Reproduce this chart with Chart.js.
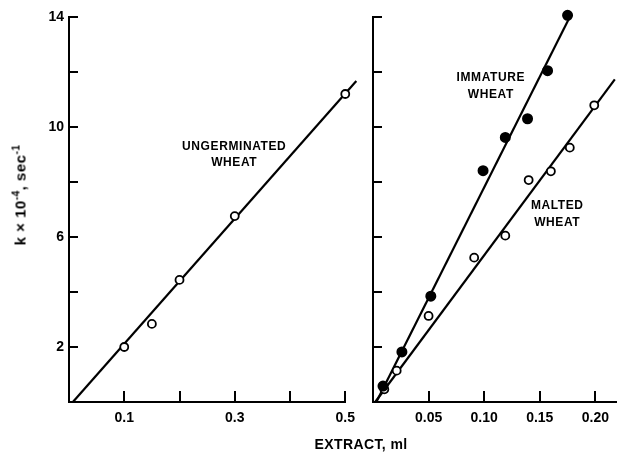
<!DOCTYPE html>
<html><head><meta charset="utf-8">
<script src="https://cdn.jsdelivr.net/npm/chart.js@4/dist/chart.umd.min.js"></script>
<style>
html,body{margin:0;padding:0;background:#fff;}
#wrap{position:relative;width:617px;height:456px;overflow:hidden;font-family:"Liberation Sans",Arial,sans-serif;color:#000;}
#c1box{position:absolute;left:0;top:0;width:363px;height:456px;}
#c2box{position:absolute;left:355px;top:0;width:269px;height:456px;}
.ytitle{position:absolute;left:20px;top:195px;transform:translate(-50%,-50%) rotate(-90deg);white-space:nowrap;font-weight:bold;font-size:15px;letter-spacing:0.5px;}
.ytitle sup{font-size:10px;vertical-align:6px;line-height:0;}
.xtitle{position:absolute;left:361px;top:444px;transform:translate(-50%,-50%);white-space:nowrap;font-weight:bold;font-size:14px;letter-spacing:0.4px;}
</style>
</head><body>
<div id="wrap">
  <div id="c1box"><canvas id="c1"></canvas></div>
  <div id="c2box"><canvas id="c2"></canvas></div>
  <div class="ytitle">k × 10<sup>-4</sup>, sec<sup>-1</sup></div>
  <div class="xtitle">EXTRACT, ml</div>
</div>
<script>
// ---- data ----
const ungermX = [0.1, 0.15, 0.2, 0.3, 0.5];
const ungermY = [2.0, 2.84, 4.44, 6.76, 11.2];
const ungermFitX = [0.007, 0.52];
const ungermFitY = [0, 11.67];

const immatureX = [0.009, 0.026, 0.052, 0.099, 0.119, 0.139, 0.157, 0.175];
const immatureY = [0.58, 1.82, 3.85, 8.41, 9.62, 10.3, 12.05, 14.06];
const immatureFitX = [0.003, 0.177];
const immatureFitY = [0, 14.0];

const maltedX = [0.0102, 0.0213, 0.050, 0.091, 0.119, 0.140, 0.160, 0.177, 0.199];
const maltedY = [0.46, 1.14, 3.13, 5.25, 6.05, 8.07, 8.39, 9.25, 10.79];
const maltedFitX = [0.002, 0.2175];
const maltedFitY = [0, 11.73];

const yTickValues = [2, 4, 6, 8, 10, 12, 14];
const yTickLabels = ['2', '', '6', '', '10', '', '14'];
const leftXTickValues = [0.1, 0.2, 0.3, 0.4, 0.5];
const leftXTickLabels = ['0.1', '', '0.3', '', '0.5'];
const rightXTickValues = [0.05, 0.10, 0.15, 0.20];
const rightXTickLabels = ['0.05', '0.10', '0.15', '0.20'];

const ungermLabel = ['UNGERMINATED', 'WHEAT'];
const immatureLabel = ['IMMATURE', 'WHEAT'];
const maltedLabel = ['MALTED', 'WHEAT'];

// ---- helpers ----
const pts = (xs, ys) => xs.map((x, i) => ({x: x, y: ys[i]}));
const FONT = {family: '"Liberation Sans", Arial, sans-serif', size: 14, weight: 'bold'};

function pointSet(xs, ys, filled) {
  return {data: pts(xs, ys), showLine: false, pointRadius: filled ? 4.6 : 4,
    pointBackgroundColor: filled ? '#000' : '#fff', pointBorderColor: '#000',
    pointBorderWidth: 1.8, clip: false};
}
function lineSet(xs, ys) {
  return {data: pts(xs, ys), showLine: true, pointRadius: 0, borderColor: '#000',
    borderWidth: 2.2, clip: false};
}

const tickPlugin = {
  id: 'inTicks',
  afterDraw(chart) {
    const ctx = chart.ctx, xs = chart.scales.x, ys = chart.scales.y;
    ctx.save();
    ctx.strokeStyle = '#000';
    ctx.lineWidth = 2;
    ctx.beginPath();
    xs.ticks.forEach(t => {
      const px = Math.round(xs.getPixelForValue(t.value));
      ctx.moveTo(px, ys.bottom); ctx.lineTo(px, ys.bottom - 11);
    });
    ys.ticks.forEach(t => {
      const py = Math.round(ys.getPixelForValue(t.value));
      ctx.moveTo(xs.left, py); ctx.lineTo(xs.left + 9, py);
    });
    ctx.stroke();
    // curve labels
    const notes = chart.options.plugins.inTicks.notes || [];
    ctx.fillStyle = '#000';
    ctx.font = 'bold 12px "Liberation Sans", Arial, sans-serif';
    if ('letterSpacing' in ctx) ctx.letterSpacing = '0.6px';
    ctx.textAlign = 'center';
    ctx.textBaseline = 'middle';
    notes.forEach(n => {
      n.lines.forEach((s, i) => {
        ctx.fillText(s, xs.getPixelForValue(n.x), ys.getPixelForValue(n.ys[i]));
      });
    });
    ctx.restore();
  }
};

function makeChart(id, datasets, xMax, xVals, xLabs, yLabs, yWidth, padRight, notes) {
  return new Chart(document.getElementById(id), {
    type: 'scatter',
    data: {datasets: datasets},
    options: {
      responsive: true, maintainAspectRatio: false, animation: false,
      layout: {padding: {top: 17, right: padRight, left: 0, bottom: 0}},
      plugins: {legend: {display: false}, tooltip: {enabled: false}, inTicks: {notes: notes}},
      scales: {
        x: {type: 'linear', min: 0, max: xMax,
          grid: {display: false, drawTicks: false},
          border: {display: true, color: '#000', width: 2},
          afterBuildTicks: s => { s.ticks = xVals.map(v => ({value: v})); },
          afterFit: s => { s.height = 54; },
          ticks: {color: '#000', font: FONT, padding: 8, maxRotation: 0, autoSkip: false,
            callback: (v, i) => xLabs[i]}},
        y: {type: 'linear', min: 0, max: 14,
          grid: {display: false, drawTicks: false},
          border: {display: true, color: '#000', width: 2},
          afterBuildTicks: s => { s.ticks = yTickValues.map(v => ({value: v})); },
          afterFit: s => { s.width = yWidth; },
          ticks: {color: '#000', font: FONT, padding: 5, autoSkip: false,
            callback: (v, i) => yLabs[i]}}
      }
    },
    plugins: [tickPlugin]
  });
}

makeChart('c1',
  [pointSet(ungermX, ungermY, false), lineSet(ungermFitX, ungermFitY)],
  0.5, leftXTickValues, leftXTickLabels, yTickLabels, 69, 15,
  [{x: 0.299, ys: [9.27, 8.70], lines: ungermLabel}]);

makeChart('c2',
  [pointSet(immatureX, immatureY, true), pointSet(maltedX, maltedY, false),
   lineSet(immatureFitX, immatureFitY), lineSet(maltedFitX, maltedFitY)],
  0.22, rightXTickValues, rightXTickLabels, yTickValues.map(() => ''), 18, 1,
  [{x: 0.106, ys: [11.78, 11.18], lines: immatureLabel},
   {x: 0.1657, ys: [7.13, 6.53], lines: maltedLabel}]);
</script>
</body></html>
